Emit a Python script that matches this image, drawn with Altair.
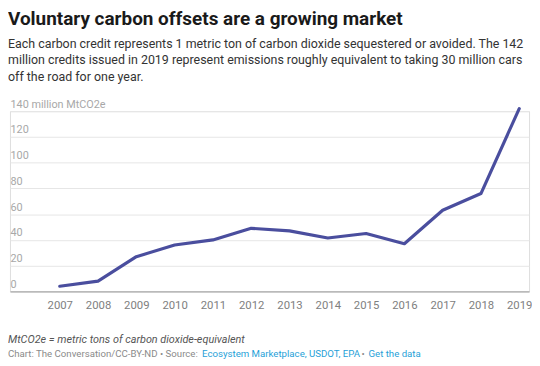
import altair as alt
import pandas as pd

years = [2007, 2008, 2009, 2010, 2011, 2012, 2013, 2014, 2015, 2016, 2017, 2018, 2019]
credits = [4, 8, 27, 36, 40, 49, 47, 41.5, 45, 37, 63, 76, 142]
y_ticks = [0, 20, 40, 60, 80, 100, 120, 140]

title = "Voluntary carbon offsets are a growing market"
subtitle = [
    "Each carbon credit represents 1 metric ton of carbon dioxide sequestered or avoided. The 142",
    "million credits issued in 2019 represent emissions roughly equivalent to taking 30 million cars",
    "off the road for one year.",
]
note = "MtCO2e = metric tons of carbon dioxide-equivalent"
footer_parts = [
    ("Chart: The Conversation/CC-BY-ND \u2022 Source: ", "#8a8a8a", -2),
    ("Ecosystem Marketplace, USDOT, EPA", "#1f9fd8", 195),
    ("\u2022", "#8a8a8a", 357),
    ("Get the data", "#1f9fd8", 364),
]

FONT = "Roboto"
W, H = 527, 183

df = pd.DataFrame({"year": years, "credits": credits})

line = alt.Chart(df).mark_line(color="#4a4e9e", strokeWidth=3.2, strokeCap="round", strokeJoin="round").encode(
    x=alt.X(
        "year:Q",
        scale=alt.Scale(domain=[2005.70, 2019.256], nice=False, zero=False),
        axis=alt.Axis(
            values=years, format="d", title=None, grid=False, ticks=False,
            domain=True, domainColor="#9a9a9a", domainWidth=1,
            labelColor="#808080", labelFontSize=11.5, labelFont=FONT, labelPadding=8,
        ),
    ),
    y=alt.Y(
        "credits:Q",
        scale=alt.Scale(domain=[0, 140], nice=False),
        axis=alt.Axis(
            values=y_ticks, title=None, grid=True, gridColor="#e6e6e6", ticks=False, domain=False,
            labelAlign="left", labelBaseline="alphabetic", labelPadding=0, labelOffset=-4,
            labelColor="#a8a8a8", labelFontSize=11, labelFont=FONT,
            labelExpr="datum.value == 140 ? '140 million MtCO2e' : datum.label",
        ),
    ),
)

def txt(t, x, y, size, color, weight="normal", style="normal"):
    return alt.Chart(pd.DataFrame({"t": [t]})).mark_text(
        align="left", baseline="alphabetic", font=FONT, fontSize=size, color=color,
        fontWeight=weight, fontStyle=style,
    ).encode(text="t:N", x=alt.value(x), y=alt.value(y))

layers = [line]
layers.append(txt(title, -2, -87, 19.2, "#1a1a1a", weight="bold"))
for i, s in enumerate(subtitle):
    layers.append(txt(s, -2, -64 + i * 16.5, 12.6, "#333333"))
layers.append(txt(note, -2, 235, 11, "#555555", style="italic"))
for t, c, x in footer_parts:
    layers.append(txt(t, x, 250, 9.8, c))

chart = alt.layer(*layers).properties(
    width=W, height=H,
    autosize=alt.AutoSizeParams(type="none"),
    padding={"left": 2, "top": 102, "right": 3, "bottom": 73},
).configure_view(stroke=None).configure(background="white")

chart.save("out.html", embed_options={"renderer": "svg", "actions": False})
